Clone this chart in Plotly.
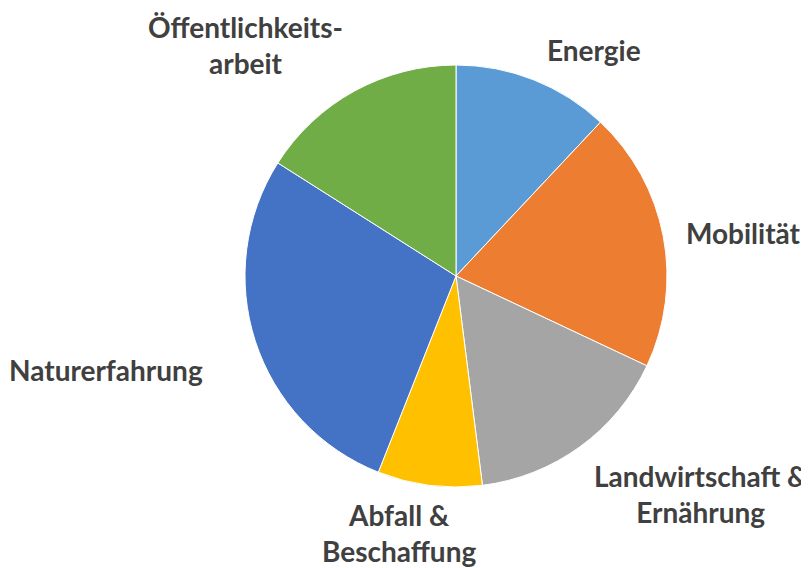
import plotly.graph_objects as go

categories = ["Energie", "Mobilität", "Landwirtschaft &<br>Ernährung", "Abfall &<br>Beschaffung",
              "Naturerfahrung", "Öffentlichkeits-<br>arbeit"]
values = [12, 20, 16, 8, 28, 16]
colors = ["#5B9BD5", "#ED7D31", "#A5A5A5", "#FFC000", "#4472C4", "#70AD47"]

# the page body adds an 8px margin; the figure is sized to fill the rest of the window
OFF = 8
W, H = 809 - OFF, 568 - OFF
CX, CY, R = 456 - OFF, 276 - OFF, 211

# label block centres in window pixels (layout, not data)
label_px = [(594, 50), (743, 233), (701, 494), (399, 533), (106, 370), (245, 45)]

fig = go.Figure(go.Pie(
    labels=categories,
    values=values,
    marker=dict(colors=colors, line=dict(color="white", width=1)),
    sort=False,
    direction="clockwise",
    rotation=0,
    textinfo="none",
    hoverinfo="label+value",
    domain=dict(x=[(CX - R) / W, (CX + R) / W], y=[(H - CY - R) / H, (H - CY + R) / H]),
    showlegend=False,
))

annotations = []
for lab, (px, py) in zip(categories, label_px):
    annotations.append(dict(
        x=(px - OFF) / W, y=1 - (py - OFF) / H, xref="paper", yref="paper",
        text="<b>" + lab + "</b>", showarrow=False,
        xanchor="center", yanchor="middle", align="center",
        font=dict(family="Lato", size=28, color="#404040"),
    ))

fig.update_layout(
    width=W, height=H,
    margin=dict(l=0, r=0, t=0, b=0),
    paper_bgcolor="white", plot_bgcolor="white",
    annotations=annotations,
)

fig.write_html("out.html")
